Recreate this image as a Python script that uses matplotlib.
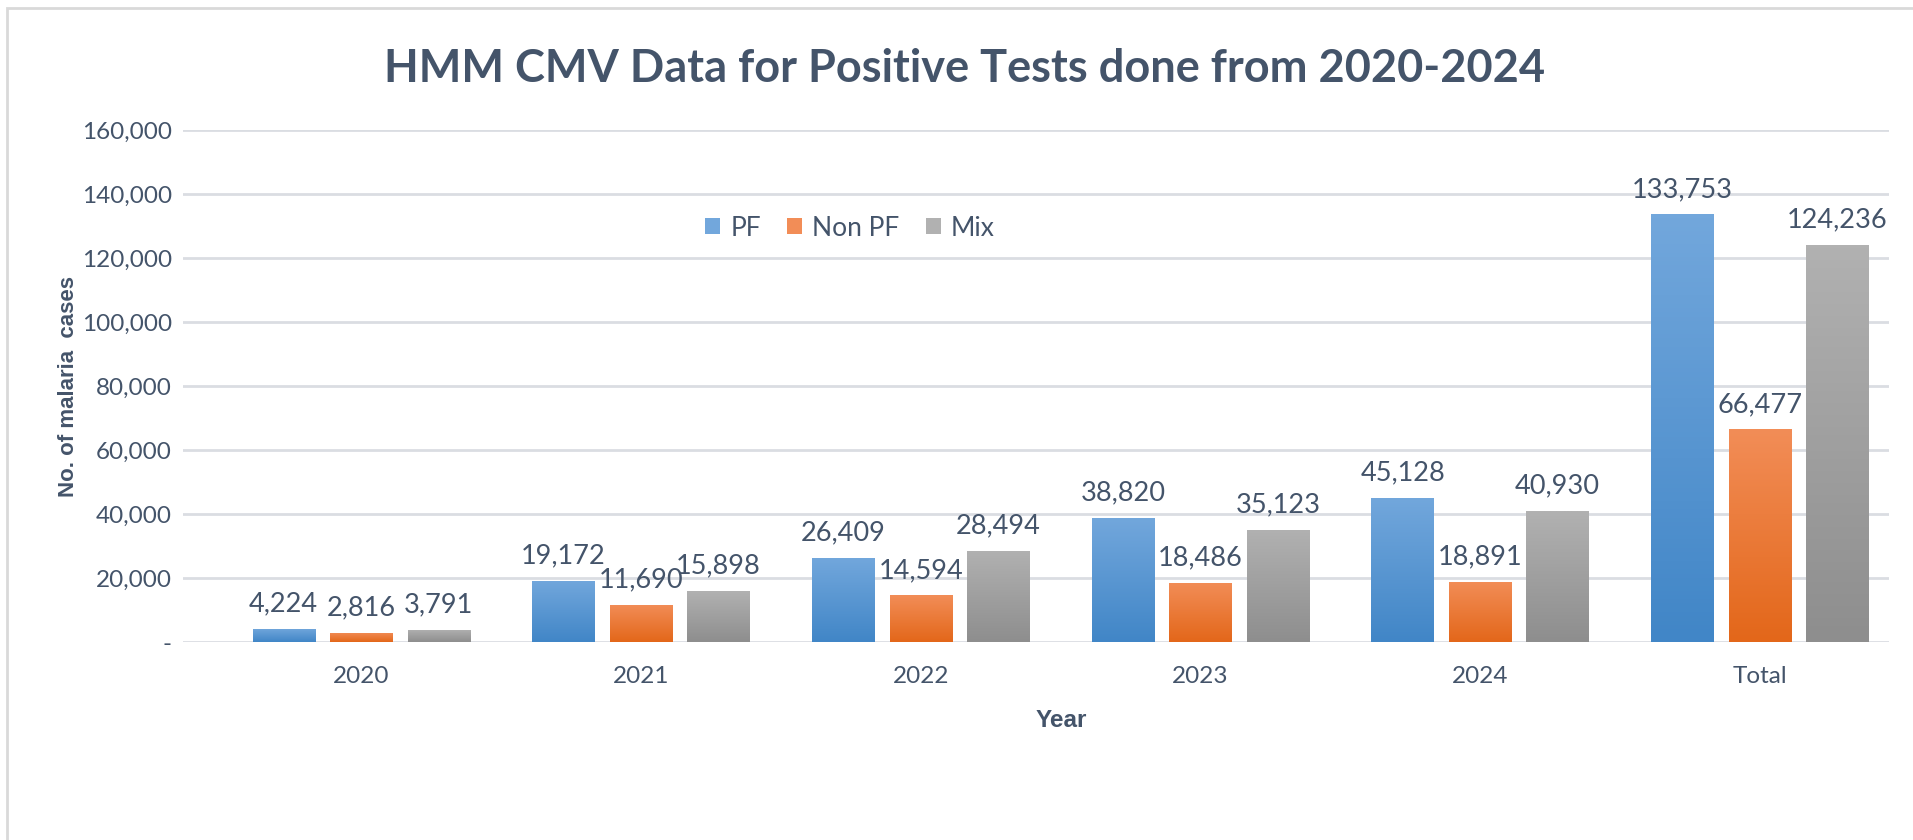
import numpy as np
import matplotlib
matplotlib.use('Agg')
import matplotlib.pyplot as plt
from matplotlib.colors import LinearSegmentedColormap
from matplotlib.patches import Rectangle

# data
years = ['2020', '2021', '2022', '2023', '2024', 'Total']
pf = [4224, 19172, 26409, 38820, 45128, 133753]
non_pf = [2816, 11690, 14594, 18486, 18891, 66477]
mix = [3791, 15898, 28494, 35123, 40930, 124236]
series_names = ['PF', 'Non PF', 'Mix']
yticks = [0, 20000, 40000, 60000, 80000, 100000, 120000, 140000, 160000]

TXT = '#44546A'
# (top colour, bottom colour) for the gradient fill of each series
grads = [('#72a7dc', '#4186c7'), ('#f28d57', '#e3671a'), ('#b1b1b1', '#8e8e8e')]

fig = plt.figure(figsize=(19.13, 8.40), dpi=100)
fig.patches.append(Rectangle((0.0037, -0.02), 1.1, 1.0105, transform=fig.transFigure,
                             fill=False, edgecolor='#d9d9d9', lw=2))
ax = fig.add_axes([0.0957, 0.2357, 0.8918, 0.609])

x = np.arange(len(years))
w = 0.223
step = 0.277
for i, vals in enumerate([pf, non_pf, mix]):
    bars = ax.bar(x + (i - 1) * step, vals, w, color=grads[i][0], label=series_names[i],
                  edgecolor='none', zorder=2)
    cmap = LinearSegmentedColormap.from_list('g%d' % i, [grads[i][1], grads[i][0]])
    for b in bars:
        x0, y0 = b.get_x(), b.get_y()
        img = ax.imshow(np.linspace(0, 1, 100).reshape(-1, 1), cmap=cmap, origin='lower',
                        extent=[x0, x0 + b.get_width(), y0, y0 + b.get_height()],
                        aspect='auto', zorder=3)
        img.set_clip_path(b)
    for b, v in zip(bars, vals):
        ax.annotate(f'{v:,}', (b.get_x() + b.get_width() / 2, v), xytext=(0, 9),
                    textcoords='offset points', ha='center', va='bottom',
                    fontsize=19.5, color=TXT, family='Lato')

ax.set_xlim(-0.637, 5.462)
ax.set_ylim(0, 160000)
ax.set_yticks(yticks)
ax.set_yticklabels(['-'] + [f'{t:,}' for t in yticks[1:]])
ax.set_xticks(x)
ax.set_xticklabels(years)
ax.tick_params(length=0, labelcolor=TXT)
ax.tick_params(axis='x', pad=17, labelsize=17.5)
ax.tick_params(axis='y', pad=8, labelsize=17.5)
for lab in ax.get_xticklabels() + ax.get_yticklabels():
    lab.set_family('Lato')
ax.yaxis.grid(True, color='#dadde2', lw=2, zorder=0)
ax.set_axisbelow(True)
for s in ax.spines.values():
    s.set_visible(False)

leg = ax.legend(loc='center', bbox_to_anchor=(0.391, 0.809), ncol=3, frameon=False,
                handlelength=0.55, handleheight=0.55, handletextpad=0.4, columnspacing=1.0,
                prop={'family': 'Lato', 'size': 19})
for t in leg.get_texts():
    t.set_color(TXT)

fig.text(0.504, 0.918, 'HMM CMV Data for Positive Tests done from 2020-2024', ha='center',
         va='center', fontsize=32.5, fontweight='bold', color=TXT, family='Lato')
fig.text(0.0356, 0.540, 'No. of malaria  cases', rotation=90, ha='center', va='center',
         fontsize=16, fontweight='bold', color=TXT, family='Liberation Sans')
fig.text(0.5546, 0.1417, 'Year', ha='center', va='center', fontsize=17.5,
         fontweight='bold', color=TXT, family='Liberation Sans')

fig.savefig('out.png', dpi=100)
